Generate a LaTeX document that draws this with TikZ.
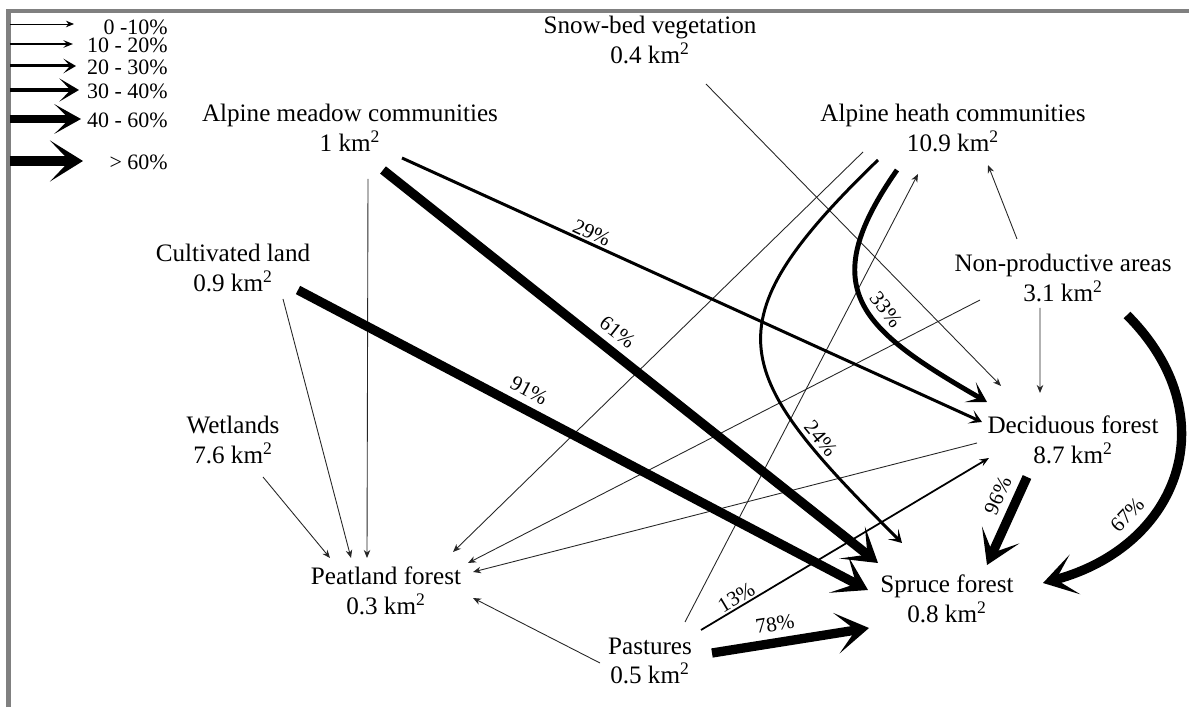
\documentclass[tikz,border=0pt]{standalone}
\usepackage{fontspec}
\setmainfont{Liberation Serif}
\usepackage{tikz}
\usetikzlibrary{arrows.meta,positioning,calc}

\begin{document}
\begin{tikzpicture}[
    landnode/.style={
        align=center, inner sep=0pt,
        font=\fontsize{14.3}{17}\selectfont
    },
    legtext/.style={anchor=east, inner sep=0pt, font=\fontsize{12.5}{14}\selectfont},
    plabel/.style={font=\fontsize{12}{14}\selectfont, inner sep=1pt, sloped, above},
    arrtiny/.style={-{Stealth[length=1.6mm, width=1.3mm, inset=0.5mm]}, line width=0.5pt, black!85},
    arrthin/.style={-{Stealth[length=1.9mm, width=1.5mm, inset=0.7mm]}, line width=1pt},
    arrmed/.style={-{Stealth[length=2.5mm, width=2.9mm, inset=1.3mm]}, line width=1.7pt},
    arrthick/.style={-{Stealth[length=3.9mm, width=4.6mm, inset=2.2mm]}, line width=2.8pt},
    arrheavy/.style={-{Stealth[length=5.3mm, width=5.9mm, inset=3mm]}, line width=4pt},
    arrhuge/.style={-{Stealth[length=6.6mm, width=8.2mm, inset=3.9mm]}, line width=5.3pt},
    bordline/.style={gray, line width=0.9mm}
]
    \useasboundingbox (0,0) rectangle (23.78,14.14);

    % frame
    \draw[bordline] (0.17,0) -- (0.17,13.92) -- (23.78,13.92);

    % legend
    \coordinate (ls1) at (0.2,13.66); \coordinate (le1) at (1.48,13.66);
    \coordinate (ls2) at (0.2,13.26); \coordinate (le2) at (1.46,13.26);
    \coordinate (ls3) at (0.2,12.82); \coordinate (le3) at (1.52,12.82);
    \coordinate (ls4) at (0.2,12.34); \coordinate (le4) at (1.58,12.34);
    \coordinate (ls5) at (0.2,11.76); \coordinate (le5) at (1.62,11.76);
    \coordinate (ls6) at (0.2,10.92); \coordinate (le6) at (1.66,10.92);
    \draw[arrtiny, black] (ls1) -- (le1);
    \draw[arrthin] (ls2) -- (le2);
    \draw[arrmed] (ls3) -- (le3);
    \draw[arrthick] (ls4) -- (le4);
    \draw[arrheavy] (ls5) -- (le5);
    \draw[arrhuge] (ls6) -- (le6);
    \node[legtext] (leg1) at (3.36,13.60) {0 -10\%};
    \node[legtext] (leg2) at (3.36,13.24) {10 - 20\%};
    \node[legtext] (leg3) at (3.36,12.80) {20 - 30\%};
    \node[legtext] (leg4) at (3.36,12.32) {30 - 40\%};
    \node[legtext] (leg5) at (3.36,11.74) {40 - 60\%};
    \node[legtext] (leg6) at (3.36,10.90) {\textgreater\ 60\%};

    % land cover classes
    \node[landnode] (snow)    at (13.00,13.34) {Snow-bed vegetation\\0.4 km\textsuperscript{2}};
    \node[landnode] (meadow)  at (7.00,11.58)  {Alpine meadow communities\\1 km\textsuperscript{2}};
    \node[landnode] (heath)   at (19.06,11.58) {Alpine heath communities\\10.9 km\textsuperscript{2}};
    \node[landnode] (cult)    at (4.66,8.78)   {Cultivated land\\0.9 km\textsuperscript{2}};
    \node[landnode] (nonprod) at (21.26,8.58)  {Non-productive areas\\3.1 km\textsuperscript{2}};
    \node[landnode] (wet)     at (4.66,5.34)   {Wetlands\\7.6 km\textsuperscript{2}};
    \node[landnode] (decid)   at (21.46,5.34)  {Deciduous forest\\8.7 km\textsuperscript{2}};
    \node[landnode] (peat)    at (7.72,2.32)   {Peatland forest\\0.3 km\textsuperscript{2}};
    \node[landnode] (spruce)  at (18.94,2.16)  {Spruce forest\\0.8 km\textsuperscript{2}};
    \node[landnode] (past)    at (13.00,0.92)  {Pastures\\0.5 km\textsuperscript{2}};

    % flows 0-10%
    \draw[arrtiny] ($(meadow)+(0.36,-1.02)$) -- ($(peat)+(-0.38,0.66)$);
    \draw[arrtiny] ($(cult)+(1.00,-0.62)$) -- ($(peat)+(-0.70,0.66)$);
    \draw[arrtiny] ($(wet)+(0.60,-0.74)$) -- ($(peat)+(-1.12,0.66)$);
    \draw[arrtiny] ($(past)+(-1.00,-0.04)$) -- ($(peat)+(1.74,-0.14)$);
    \draw[arrtiny] ($(decid)+(-1.92,-0.06)$) -- ($(peat)+(1.74,0.38)$);
    \draw[arrtiny] ($(nonprod)+(-1.66,-0.44)$) -- ($(peat)+(1.64,0.56)$);
    \draw[arrtiny] ($(heath)+(-1.80,-0.48)$) -- ($(peat)+(1.34,0.78)$);
    \draw[arrtiny] ($(snow)+(1.12,-0.88)$) -- ($(decid)+(-1.44,1.08)$);
    \draw[arrtiny] ($(nonprod)+(-0.46,-0.60)$) -- ($(decid)+(-0.66,0.94)$);
    \draw[arrtiny] ($(nonprod)+(-0.92,0.78)$) -- ($(heath)+(0.70,-0.74)$);
    \draw[arrtiny] ($(past)+(0.70,0.78)$) -- ($(heath)+(-0.70,-0.92)$);

    % labelled flows
    \draw[arrthin] ($(past)+(1.02,0.62)$) -- node[plabel, pos=0.14]{13\%} ($(decid)+(-1.68,-0.36)$);
    \draw[arrmed] ($(meadow)+(1.04,-0.60)$) -- node[plabel, pos=0.32]{29\%} ($(decid)+(-1.82,0.36)$);
    \draw[arrmed] ($(heath)+(-1.50,-0.64)$) to[out=-136, in=135, looseness=1.6]
        node[plabel, above=1pt, pos=0.78]{24\%} ($(spruce)+(-0.90,1.12)$);
    \draw[arrthick] ($(heath)+(-1.12,-0.84)$) to[out=-125, in=150, looseness=1.5]
        node[plabel, above=2.5pt, pos=0.58]{33\%} ($(decid)+(-1.72,0.76)$);
    \draw[arrhuge] ($(meadow)+(0.66,-0.84)$) -- node[plabel, above=3pt, pos=0.45]{61\%} ($(spruce)+(-1.38,0.72)$);
    \draw[arrhuge] ($(cult)+(1.30,-0.44)$) -- node[plabel, above=3pt, pos=0.39]{91\%} ($(spruce)+(-1.58,0.18)$);
    \draw[arrhuge] ($(past)+(1.24,0.16)$) -- node[plabel, above=3pt, pos=0.42]{78\%} ($(spruce)+(-1.56,-0.58)$);
    \draw[arrhuge] ($(decid)+(-0.92,-0.74)$) -- node[plabel, above=3pt, pos=0.3]{96\%} ($(spruce)+(0.80,0.68)$);
    \draw[arrhuge] ($(nonprod)+(1.28,-0.74)$) to[out=-45, in=15, looseness=1.3]
        node[plabel, above=3pt, pos=0.7]{67\%} ($(spruce)+(1.92,0.32)$);
\end{tikzpicture}
\end{document}
